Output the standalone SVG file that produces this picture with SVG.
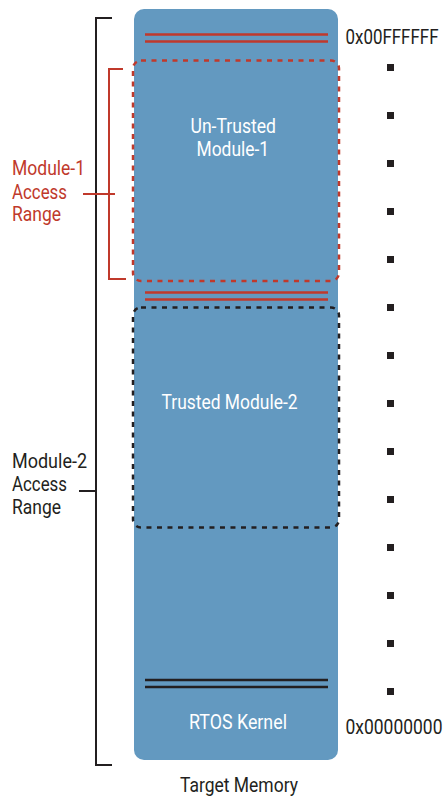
<svg xmlns="http://www.w3.org/2000/svg" width="446" height="801" viewBox="0 0 446 801">
  <style>
    text { font-family: Roboto, "Liberation Sans", sans-serif; font-size: 20px; }
    .in { fill: #ffffff; }
    .dark { fill: #231f20; }
    .red { fill: #c0392b; }
    .addr { font-size: 17.5px; }
    .rline { stroke: #c0392b; stroke-width: 2.5; fill: none; }
    .kline { stroke: #231f20; stroke-width: 2.5; fill: none; }
    .dotr { stroke: #c0392b; stroke-width: 2.5; fill: none; stroke-dasharray: 5 5.5; }
    .dotk { stroke: #231f20; stroke-width: 2.5; fill: none; stroke-dasharray: 5 5.5; }
    .brk { stroke: #231f20; stroke-width: 2; fill: none; }
    .brr { stroke: #c0392b; stroke-width: 2; fill: none; }
    .tick { fill: #231f20; }
  </style>

  <!-- memory column -->
  <g id="target-memory">
    <rect x="134" y="9" width="204" height="751" rx="10" fill="#6399c0"/>
    <text class="dark" x="180" y="792" textLength="118" lengthAdjust="spacingAndGlyphs">Target Memory</text>
  </g>

  <!-- top boundary lines -->
  <g id="top-boundary">
    <line class="rline" x1="145" y1="34.5" x2="328" y2="34.5"/>
    <line class="rline" x1="145" y1="41.5" x2="328" y2="41.5"/>
  </g>

  <g id="untrusted-module-1">
    <rect class="dotr" x="133" y="60.5" width="206" height="220.5" rx="8"/>
    <text class="in" x="190.5" y="132.5" textLength="85.5" lengthAdjust="spacingAndGlyphs">Un-Trusted</text>
    <text class="in" x="196.5" y="156" textLength="72.5" lengthAdjust="spacingAndGlyphs">Module-1</text>
  </g>

  <g id="module-boundary">
    <line class="rline" x1="145" y1="292.5" x2="328" y2="292.5"/>
    <line class="rline" x1="145" y1="299.5" x2="328" y2="299.5"/>
  </g>

  <g id="trusted-module-2">
    <rect class="dotk" x="133" y="307.5" width="206" height="220" rx="8"/>
    <text class="in" x="161.5" y="408.5" textLength="136" lengthAdjust="spacingAndGlyphs">Trusted Module-2</text>
  </g>

  <g id="rtos-kernel">
    <line class="kline" x1="145" y1="680" x2="328" y2="680"/>
    <line class="kline" x1="145" y1="687" x2="328" y2="687"/>
    <text class="in" x="189" y="728.5" textLength="98" lengthAdjust="spacingAndGlyphs">RTOS Kernel</text>
  </g>

  <!-- address labels (slightly tall, condensed face) and ticks -->
  <g id="addresses">
    <text class="dark addr" transform="translate(345.5,44) scale(1,1.12)" x="0" y="0" textLength="93" lengthAdjust="spacingAndGlyphs">0x00FFFFFF</text>
    <text class="dark addr" transform="translate(345.5,734) scale(1,1.12)" x="0" y="0" textLength="97" lengthAdjust="spacingAndGlyphs">0x00000000</text>
    <rect class="tick" x="387" y="64" width="7" height="7"/>
    <rect class="tick" x="387" y="112" width="7" height="7"/>
    <rect class="tick" x="387" y="160" width="7" height="7"/>
    <rect class="tick" x="387" y="208" width="7" height="7"/>
    <rect class="tick" x="387" y="256" width="7" height="7"/>
    <rect class="tick" x="387" y="304" width="7" height="7"/>
    <rect class="tick" x="387" y="352" width="7" height="7"/>
    <rect class="tick" x="387" y="400" width="7" height="7"/>
    <rect class="tick" x="387" y="448" width="7" height="7"/>
    <rect class="tick" x="387" y="496" width="7" height="7"/>
    <rect class="tick" x="387" y="544" width="7" height="7"/>
    <rect class="tick" x="387" y="592" width="7" height="7"/>
    <rect class="tick" x="387" y="640" width="7" height="7"/>
    <rect class="tick" x="387" y="688" width="7" height="7"/>
  </g>

  <!-- access range brackets -->
  <g id="connectors">
    <polyline class="brk" points="112,18 96,18 96,765 112,765"/>
    <line class="brk" x1="79" y1="491" x2="96" y2="491"/>
    <polyline class="brr" points="123,69 109,69 109,279 126,279"/>
    <line class="brr" x1="83" y1="194" x2="115" y2="194"/>
  </g>

  <g id="module-1-range">
    <text class="red" x="12" y="175" textLength="73" lengthAdjust="spacingAndGlyphs">Module-1</text>
    <text class="red" x="12" y="198.5" textLength="55" lengthAdjust="spacingAndGlyphs">Access</text>
    <text class="red" x="12" y="221" textLength="49" lengthAdjust="spacingAndGlyphs">Range</text>
  </g>

  <g id="module-2-range">
    <text class="dark" x="12" y="467.5" textLength="75" lengthAdjust="spacingAndGlyphs">Module-2</text>
    <text class="dark" x="12" y="490.5" textLength="55" lengthAdjust="spacingAndGlyphs">Access</text>
    <text class="dark" x="12" y="513.5" textLength="49" lengthAdjust="spacingAndGlyphs">Range</text>
  </g>
</svg>
